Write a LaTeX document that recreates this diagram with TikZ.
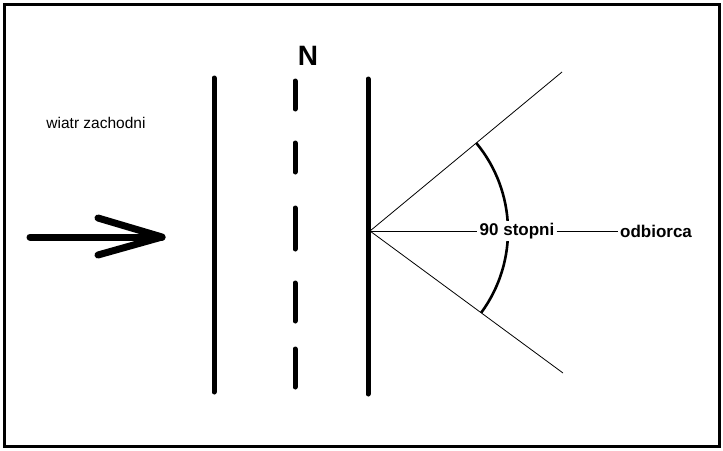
\documentclass[tikz,border=0pt]{standalone}
\usepackage{fontspec}
\setmainfont{Liberation Sans}
\usetikzlibrary{calc,positioning}
\tikzset{
  frame/.style={draw=black,line width=3pt},
  wall/.style={draw=black,line width=5pt,line cap=round},
  axisdash/.style={draw=black,line width=5pt,line cap=round},
  windarrow/.style={draw=black,line width=7pt,line cap=round,line join=round},
  ray/.style={draw=black,line width=0.8pt},
  anglearc/.style={draw=black,line width=2.6pt},
  plainlabel/.style={font=\fontsize{15.5}{17}\selectfont,inner sep=1pt},
  boldlabel/.style={font=\bfseries\fontsize{17}{19}\selectfont,inner sep=2pt,fill=white}
}

\begin{document}
\begin{tikzpicture}[x=1pt,y=-1pt]
  \useasboundingbox (0,0) rectangle (723,450);
  \draw[frame] (4.5,4.5) rectangle (719,446.5);

  % wiatr
  \node[plainlabel] (wind) at (96,123) {wiatr zachodni};
  \coordinate (tail) at (30,237);
  \coordinate (tip) at (162,237);
  \draw[windarrow] (tail) -- (tip);
  \draw[windarrow] (98,218) -- (tip) -- (98,255);

  % sciany i os N
  \draw[wall] (214,78) -- (214,392);
  \draw[wall] (368,79) -- (368,394);
  \foreach \ya/\yb in {81/109,143/172,208/249,283/321,349/387}{
    \draw[axisdash] (295,\ya) -- (295,\yb);
  }
  \node[font=\bfseries\fontsize{28}{30}\selectfont,inner sep=0pt] (north) at (308,56) {N};

  % kat odbioru
  \coordinate (apex) at (370,231);
  \coordinate (upend) at (562,72);
  \coordinate (lowend) at (563,373);
  \draw[ray] (apex) -- (upend);
  \draw[ray] (apex) -- (lowend);
  \draw[anglearc] (apex) ++(-39.6:138) arc[start angle=-39.6,end angle=36.3,radius=138];

  \node[boldlabel] (deg) at (517,231) {90 stopni};
  \node[boldlabel] (recv) at (656,231) {odbiorca};
  \draw[ray] (apex) -- (deg.west);
  \draw[ray] (deg.east) -- (recv.west);
\end{tikzpicture}
\end{document}
